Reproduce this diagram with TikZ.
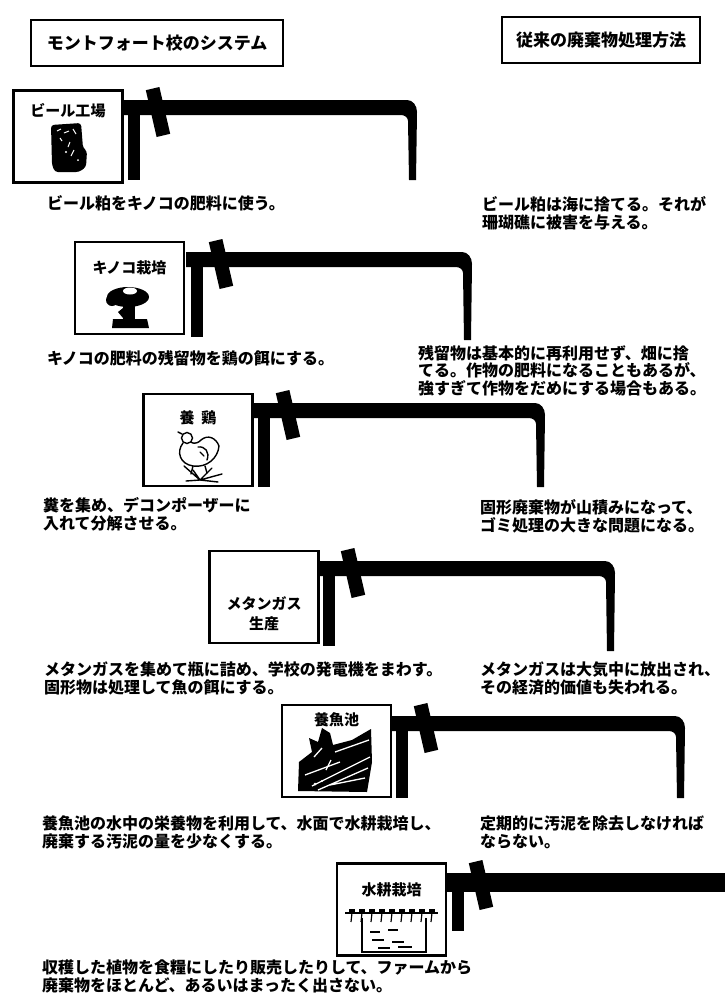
\documentclass[tikz,border=0pt]{standalone}
\usepackage{fontspec}
\newfontfamily\jpfont{Noto Sans CJK JP}
\usetikzlibrary{calc}

% pipe from a unit to the waste outlet on the right:
% #1 box right x, #2 pipe top y, #3 bend x, #4 end y, #5 leg bottom y
\newcommand\wastepipe[5]{%
  \fill (#1,#2) -- ({#3-10},#2) to[out=0,in=90] (#3,{#2+12}) -- ({#3-1},#4)
        -- ({#3-8},#4) -- ({#3-9},{#2+21}) to[out=90,in=0] ({#3-16},{#2+15})
        -- (#1,{#2+15}) -- cycle;
  \fill ({#1+5},#2) rectangle ({#1+17},#5);
  \fill ({#1+35-12.2},{#2+12-21.8}) -- ({#1+35+1.4},{#2+12-25})
        -- ({#1+35+12.2},{#2+12+21.8}) -- ({#1+35-1.4},{#2+12+25}) -- cycle;
}

\begin{document}
\begin{tikzpicture}[x=1pt,y=-1pt,
  every node/.style={inner sep=0pt, outer sep=0pt},
  headbox/.style={draw, line width=2.4pt, minimum height=46pt,
    font=\jpfont\bfseries\fontsize{17}{20}\selectfont},
  unitbox/.style={draw, line width=2.2pt, minimum width=109pt, minimum height=92pt},
  unitlabel/.style={font=\jpfont\bfseries\fontsize{15}{20}\selectfont, align=center},
  note/.style={font=\jpfont\bfseries\fontsize{16}{17.5}\selectfont, align=left, anchor=base west},
]
\useasboundingbox (0,0) rectangle (724,996);
\fill[white] (0,0) rectangle (724,996);

% column headings
\node[headbox, minimum width=252pt] (hl) at (157,43) {モントフォート校のシステム};
\node[headbox, minimum width=198pt] (hr) at (601,40) {従来の廃棄物処理方法};

% ---------- units ----------
\node[unitbox] (b1) at (68,136.5) {};
\node[unitlabel] (l1) at (68,111) {ビール工場};
\node[unitbox] (b2) at (129.5,288) {};
\node[unitlabel] (l2) at (129.5,268) {キノコ栽培};
\node[unitbox] (b3) at (198,440) {};
\node[unitlabel] (l3) at (198,418) {養\ \ 鶏};
\node[unitbox] (b4) at (264,597) {};
\node[unitlabel] (l4) at (264,614) {メタンガス\\生産};
\node[unitbox] (b5) at (336.5,751) {};
\node[unitlabel] (l5) at (336.5,720) {養魚池};
\node[unitbox] (b6) at (391.5,909.5) {};
\node[unitlabel] (l6) at (391.5,890) {水耕栽培};

% ---------- pipes ----------
\wastepipe{123}{100}{417}{180}{180}
\wastepipe{186}{252}{472}{340}{337}
\wastepipe{253}{403}{545}{487}{487}
\wastepipe{318}{561}{615}{651}{646}
\wastepipe{391}{716}{685}{798}{798}
% last pipe runs off the right edge
\fill (446,873) rectangle (730,892);
\fill (452,873) rectangle (464,931);
\fill ({481-12.2},{885-21.8}) -- ({481+1.4},{885-25}) -- ({481+12.2},{885+21.8}) -- ({481-1.4},{885+25}) -- cycle;

% ---------- icons ----------
% beer
\fill[rounded corners=3pt] (51,125) -- (81,123) -- (83,148) -- (87,151) -- (86,167) -- (79,172)
  -- (55,172) -- (52,165) -- cycle;
\begin{scope}[white, line width=1pt]
  \draw (57,131) -- (61,129) (64,133) -- (69,131) (73,129) -- (76,134);
  \draw (60,138) -- (62,141) (70,142) -- (68,147) (74,150) -- (71,156);
  \fill (66,152) circle (1.2) (78,160) circle (1);
\end{scope}
% mushroom
\fill (128,297) ellipse (21 and 10);
\fill (112,300) circle (6);
\fill[white] (130,291) ellipse (7 and 3.5);
\fill (123,304) rectangle (135,319);
\fill (113,319) -- (147,319) -- (149,328) -- (112,328) -- cycle;
\fill (118,312) -- (123,308) -- (123,318) -- cycle;
% chicken
\begin{scope}[line width=1.4pt, line cap=round]
  \draw (187,438) circle (5.5);
  \draw (182,434) -- (178,432);
  \draw (183,443) .. controls (176,452) and (180,464) .. (193,466)
        .. controls (207,468) and (218,458) .. (219,446)
        .. controls (216,438) and (208,434) .. (201,440)
        .. controls (196,445) and (192,443) .. (191,442);
  \draw (198,447) .. controls (205,446) and (210,452) .. (207,460);
  \draw (200,452) -- (204,456);
  \draw (193,466) -- (191,474) (205,466) -- (207,473);
  \draw (200,480) -- (184,466) (200,480) -- (186,481) (200,480) -- (212,468)
        (200,480) -- (222,474) (200,480) -- (218,482) (200,480) -- (193,470);
\end{scope}
% fish pond
\fill (298,791) -- (299,762) -- (312,752) -- (309,738) -- (318,742) -- (322,728) -- (330,733)
  -- (333,745) -- (352,740) -- (371,729) -- (372,762) -- (367,792) -- cycle;
\begin{scope}[white, line width=1.3pt]
  \draw (312,786) -- (370,757) (318,790) -- (368,768) (305,775) -- (340,762)
        (335,752) -- (369,740) (330,785) -- (365,778);
  \draw (314,757) -- (322,748) (326,770) -- (331,760);
  \fill (315,784) circle (1.5) (322,781) circle (1.2);
\end{scope}
% hydroponics
\begin{scope}[line width=1.2pt]
  \draw (345,913) -- (438,913);
  \foreach \px in {352,362,372,382,392,402,412,422,432}
    { \fill (\px-3,909) rectangle (\px+3,913); \draw (\px,913) -- (\px-1,922); }
  \draw (362,918) -- (362,952) -- (426,952) -- (426,918);
  \draw (370,932) -- (380,932) (388,930) -- (398,930) (372,940) -- (384,940)
        (392,942) -- (404,942) (378,948) -- (390,948) (398,947) -- (412,947);
\end{scope}

% ---------- descriptions (base = baseline of the last line) ----------
\node[note] (t1) at (47,209) {ビール粕をキノコの肥料に使う。};
\node[note] (r1) at (482,228) {ビール粕は海に捨てる。それが\\珊瑚礁に被害を与える。};
\node[note] (t2) at (47,364) {キノコの肥料の残留物を鶏の餌にする。};
\node[note] (r2) at (418,394) {残留物は基本的に再利用せず、畑に捨\\てる。作物の肥料になることもあるが、\\強すぎて作物をだめにする場合もある。};
\node[note] (t3) at (43,529) {糞を集め、デコンポーザーに\\入れて分解させる。};
\node[note] (r3) at (480,531) {固形廃棄物が山積みになって、\\ゴミ処理の大きな問題になる。};
\node[note] (t4) at (44,693) {メタンガスを集めて瓶に詰め、学校の発電機をまわす。\\固形物は処理して魚の餌にする。};
\node[note] (r4) at (480,693) {メタンガスは大気中に放出され、\\その経済的価値も失われる。};
\node[note] (t5) at (42,847) {養魚池の水中の栄養物を利用して、水面で水耕栽培し、\\廃棄する汚泥の量を少なくする。};
\node[note] (r5) at (480,847) {定期的に汚泥を除去しなければ\\ならない。};
\node[note] (t6) at (42,991) {収穫した植物を食糧にしたり販売したりして、ファームから\\廃棄物をほとんど、あるいはまったく出さない。};
\end{tikzpicture}
\end{document}
